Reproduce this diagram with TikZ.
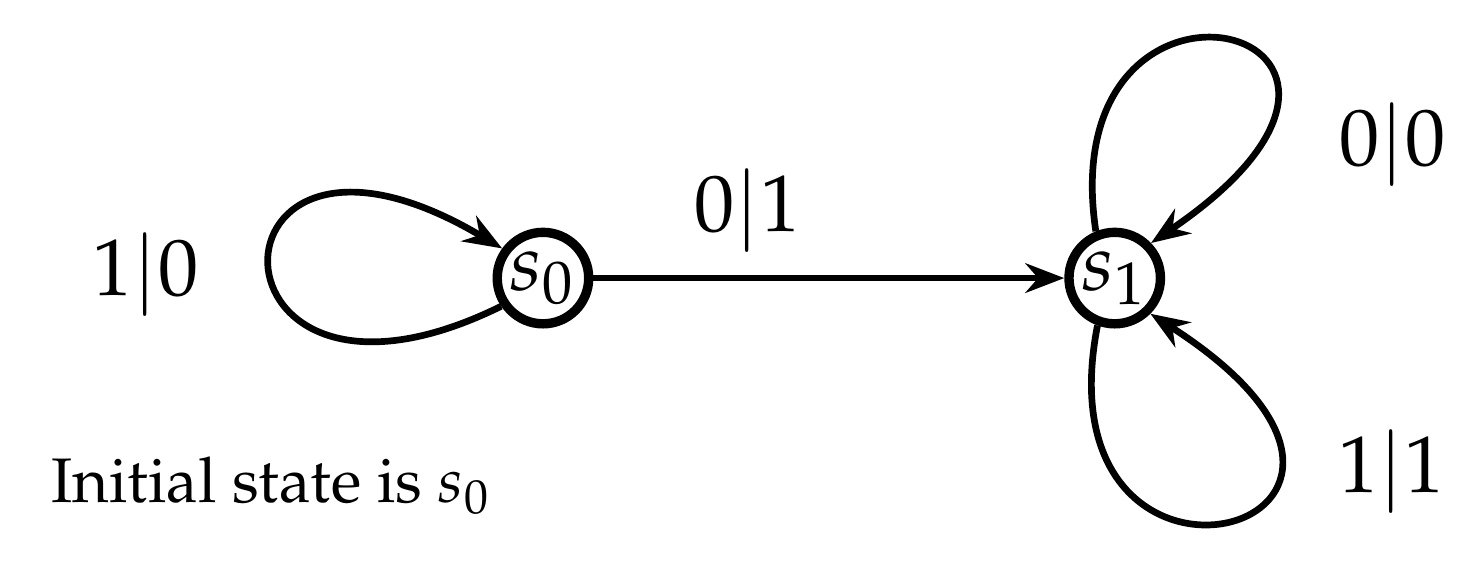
\documentclass[tikz,border=0pt]{standalone}
\usepackage[T1]{fontenc}
\usepackage{mathpazo}
\usetikzlibrary{arrows.meta}

\begin{document}
\begin{tikzpicture}[
    stnode/.style={circle, draw, line width=1.4pt, minimum size=0.48cm, inner sep=0pt, font=\large},
    trans/.style={line width=1pt, -{Stealth[length=5.8pt,width=4.4pt,inset=1.9pt]}},
    lbl/.style={font=\large, anchor=base}
  ]
  \useasboundingbox (-2.849,-1.506) rectangle (4.864,1.459);
  \node[stnode] (s0) at (0,0) {$s_0$};
  \node[stnode] (s1) at (3,0) {$s_1$};
  % control points of the three loops
  \coordinate (a0) at (-1.836,-0.944);
  \coordinate (a1) at (-1.836,1.12);
  \coordinate (b0) at (2.66,1.86);
  \coordinate (b1) at (4.86,1.32);
  \coordinate (c0) at (2.580,-1.941);
  \coordinate (c1) at (4.941,-1.312);
  \draw[trans] (s0) -- (s1);
  \draw[trans] (s0.214) .. controls (a0) and (a1) .. (s0.144);
  \draw[trans] (s1.112) .. controls (b0) and (b1) .. (s1.44);
  \draw[trans] (s1.250) .. controls (c0) and (c1) .. (s1.315);
  \node[lbl] (l10) at (-2.086,-0.089) {$1|0$};
  \node[lbl] (l01) at (1.073,0.243) {$0|1$};
  \node[lbl] (l00) at (4.457,0.593) {$0|0$};
  \node[lbl] (l11) at (4.452,-1.124) {$1|1$};
  \node[anchor=base west, font=\fontsize{9.4}{11}\selectfont] (init) at (-2.702,-1.180) {Initial state is $s_0$};
\end{tikzpicture}
\end{document}
